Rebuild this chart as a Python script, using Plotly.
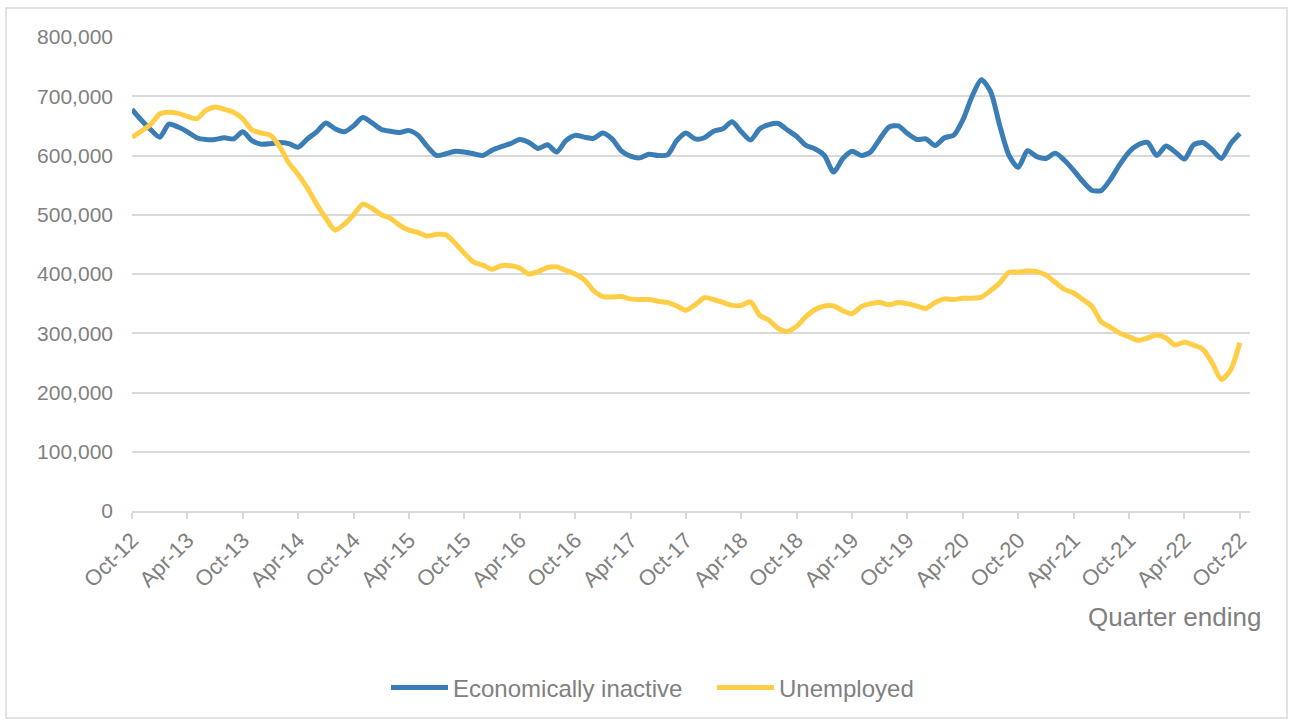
import plotly.graph_objects as go

# Monthly rolling-quarter values, Oct-12 .. Oct-22 (121 months)
economically_inactive = [
    678, 660, 644, 631, 653, 648, 640, 630, 627, 627,
    630, 628, 640, 625, 619, 620, 622, 620, 614, 628,
    640, 655, 645, 640, 650, 664, 655, 644, 641, 639,
    642, 634, 615, 600, 603, 607, 606, 603, 600, 609,
    615, 620, 627, 622, 612, 618, 606, 625, 634, 631,
    629, 638, 628, 608, 599, 596, 602, 600, 601, 625,
    638, 628, 630, 641, 645, 657, 640, 626, 645, 652,
    654, 643, 632, 617, 611, 600, 572, 595, 607, 600,
    606, 628, 648, 650, 637, 627, 628, 617, 630, 634,
    660, 700, 728, 708, 650, 600, 580, 608, 598, 595,
    604, 592, 575, 556, 541, 541, 560, 585, 606, 618,
    622, 600, 616, 606, 594, 618, 622, 610, 595, 620,
    637,
]
unemployed = [
    631, 641, 652, 670, 673, 671, 666, 662, 676, 682,
    678, 673, 662, 643, 638, 634, 615, 587, 568, 545,
    518, 494, 474, 484, 500, 518, 511, 500, 494, 482,
    474, 470, 464, 467, 466, 452, 435, 420, 415, 408,
    414, 414, 410, 400, 404, 411, 412, 406, 400, 390,
    372, 362, 361, 362, 358, 357, 357, 354, 352, 346,
    339, 348, 360, 357, 352, 347, 347, 353, 330, 322,
    308, 303, 312, 328, 340, 346, 346, 338, 333, 345,
    350, 352, 348, 352, 350, 346, 342, 352, 358, 357,
    359, 359, 361, 372, 385, 403, 403, 405, 404, 398,
    386, 374, 368, 357, 345, 319, 310, 300, 294, 288,
    292, 297, 292, 280, 285, 280, 273, 250, 222, 238,
    284,
]
tick_labels = [
    "Oct-12", "Apr-13", "Oct-13", "Apr-14", "Oct-14", "Apr-15", "Oct-15",
    "Apr-16", "Oct-16", "Apr-17", "Oct-17", "Apr-18", "Oct-18", "Apr-19",
    "Oct-19", "Apr-20", "Oct-20", "Apr-21", "Oct-21", "Apr-22", "Oct-22",
]
series_names = ["Economically inactive", "Unemployed"]
y_ticks = [0, 100000, 200000, 300000, 400000, 500000, 600000, 700000, 800000]

months = list(range(len(economically_inactive)))
tick_positions = list(range(0, len(economically_inactive), 6))

GRAY = "#808080"
GRID = "#D9D9D9"
FONT = "Liberation Sans, Arial, sans-serif"

fig = go.Figure()
for name, vals, color in [
    (series_names[0], economically_inactive, "#3B7DB5"),
    (series_names[1], unemployed, "#FFCD46"),
]:
    fig.add_trace(go.Scatter(
        x=months, y=[v * 1000 for v in vals], name=name, mode="lines",
        line=dict(color=color, width=5, shape="spline", smoothing=0.7),
    ))

W, H = 1290, 722
L, R, T, B = 132, 1250, 37, 511


def px(xp):
    return (xp - L) / (R - L)


def py(yp):
    return (B - yp) / (B - T)


fig.update_layout(
    width=W, height=H,
    margin=dict(l=L, r=W - R, t=T, b=H - B),
    paper_bgcolor="white", plot_bgcolor="white",
    font=dict(family=FONT, color=GRAY, size=21),
    showlegend=True,
    legend=dict(
        orientation="h", x=px(386), xanchor="left", y=py(688), yanchor="middle",
        font=dict(size=24, color=GRAY), itemwidth=57, traceorder="normal",
        entrywidth=254, entrywidthmode="pixels", bgcolor="rgba(0,0,0,0)",
    ),
    xaxis=dict(
        range=[0, 121.1], tickmode="array", tickvals=tick_positions,
        ticktext=tick_labels, tickangle=-45, showgrid=False,
        showline=True, linecolor=GRID, linewidth=1.5,
        ticks="outside", ticklen=6, tickcolor=GRID, tickwidth=1.5,
        tickfont=dict(size=22, color=GRAY), zeroline=False,
    ),
    yaxis=dict(
        range=[0, 800000], tickmode="array", tickvals=y_ticks,
        tickformat=",d", showgrid=True, gridcolor=GRID, gridwidth=1.5,
        zeroline=False, showline=False, ticks="", ticklabelstandoff=18,
        tickfont=dict(size=21, color=GRAY),
    ),
    annotations=[dict(
        text="Quarter ending", xref="paper", yref="paper",
        x=px(1263), y=py(617), xanchor="right", yanchor="middle",
        showarrow=False, font=dict(size=26, color=GRAY),
    )],
    shapes=[dict(
        type="rect", xref="paper", yref="paper",
        x0=px(6), x1=px(1287), y0=py(718), y1=py(8),
        line=dict(color=GRID, width=1.5), fillcolor="rgba(0,0,0,0)", layer="below",
    )],
)

fig.write_html("out.html")
